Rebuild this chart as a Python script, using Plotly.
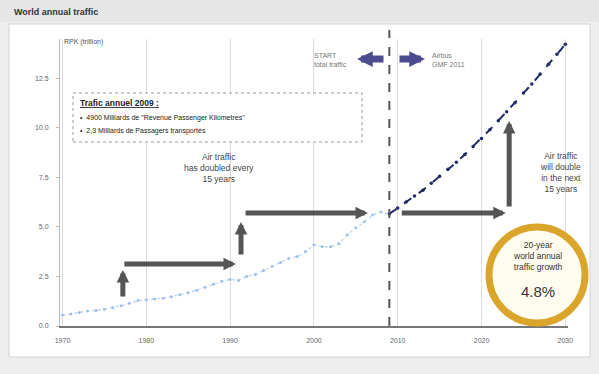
import plotly.graph_objects as go

# ---------------- data ----------------
hist_years = list(range(1970, 2010))
hist_rpk = [0.55, 0.60, 0.68, 0.75, 0.78, 0.85, 0.92, 1.02, 1.15, 1.28,
            1.32, 1.36, 1.40, 1.48, 1.58, 1.68, 1.80, 1.95, 2.10, 2.25,
            2.35, 2.30, 2.50, 2.60, 2.80, 3.00, 3.20, 3.40, 3.50, 3.75,
            4.10, 4.00, 4.00, 4.15, 4.60, 4.95, 5.25, 5.60, 5.75, 5.65]

fc_years = list(range(2009, 2031))
fc_rpk = [5.65, 5.95, 6.25, 6.55, 6.85, 7.20, 7.55, 7.90, 8.25, 8.65, 9.05,
          9.45, 9.90, 10.35, 10.80, 11.25, 11.75, 12.20, 12.70, 13.20, 13.70, 14.20]

y_tickvals = [0, 2.5, 5.0, 7.5, 10.0, 12.5]
y_ticktext = ["0.0", "2.5", "5.0", "7.5", "10.0", "12.5"]
x_tickvals = [1970, 1980, 1990, 2000, 2010, 2020, 2030]
x_ticktext = ["1970", "1980", "1990", "2000", "2010", "2020", "2030"]

# ---------------- geometry helpers (pixel -> paper) ----------------
W, H = 599, 374
ML, MR, MT, MB = 60, 31, 39, 48
PW, PH = W - ML - MR, H - MT - MB


def PX(x):
    return (x - ML) / PW


def PY(y):
    return (H - MB - y) / PH


FONT = "Liberation Sans, Arial, sans-serif"

fig = go.Figure()

fig.add_trace(go.Scatter(
    x=hist_years, y=hist_rpk, mode="lines+markers",
    line=dict(color="#c3d8f1", width=1.5, dash="dot"),
    marker=dict(color="#9fc0e8", size=3),
    hoverinfo="skip", showlegend=False))

fig.add_trace(go.Scatter(
    x=fc_years, y=fc_rpk, mode="lines+markers",
    line=dict(color="#1f2a66", width=2, dash="dash"),
    marker=dict(color="#1f2a66", size=3.5),
    hoverinfo="skip", showlegend=False))

shapes = [
    # white panel
    dict(type="rect", xref="paper", yref="paper", x0=PX(9), x1=PX(590), y0=PY(357), y1=PY(24),
         fillcolor="white", line=dict(color="#d2d2d2", width=1), layer="below"),
    # header band
    dict(type="rect", xref="paper", yref="paper", x0=PX(0), x1=PX(599), y0=PY(22), y1=PY(0),
         fillcolor="#e6e6e6", line=dict(width=0), layer="below"),
    # info box
    dict(type="rect", xref="paper", yref="paper", x0=PX(73), x1=PX(362), y0=PY(142), y1=PY(93),
         fillcolor="white", line=dict(color="#9a9a9a", width=1, dash="dot"), layer="above"),
    # forecast start dashed line
    dict(type="line", xref="x", yref="paper", x0=fc_years[0], x1=fc_years[0], y0=0, y1=PY(30),
         line=dict(color="#555555", width=2, dash="dash"), layer="above"),
    # growth ring
    dict(type="circle", xref="paper", yref="paper", x0=PX(489), x1=PX(585), y0=PY(323), y1=PY(227),
         fillcolor="#fffdf0", line=dict(color="#dba52b", width=7), layer="above"),
]

ARROW = "#555555"


def data_arrow(x, y, ax, ay):
    return dict(x=x, y=y, ax=ax, ay=ay, xref="x", yref="y", axref="x", ayref="y",
                text="", showarrow=True, arrowhead=2, arrowsize=0.5, arrowwidth=5,
                arrowcolor=ARROW, standoff=0, startstandoff=0)


def px_arrow(x, y, ax):
    return dict(x=PX(x), y=PY(y), xref="paper", yref="paper", ax=ax, ay=0,
                text="", showarrow=True, arrowhead=2, arrowsize=0.45, arrowwidth=7,
                arrowcolor="#4b4b8f", standoff=0)


def txt(x, y, s, size=8, color="#444444", align="center", xanchor="center", bold=False):
    if bold:
        s = "<b>" + s + "</b>"
    return dict(x=PX(x), y=PY(y), xref="paper", yref="paper", text=s, showarrow=False,
                font=dict(family=FONT, size=size, color=color), align=align,
                xanchor=xanchor, yanchor="middle")


annotations = [
    data_arrow(1977.2, 2.82, 1977.2, 1.41),
    data_arrow(1990.7, 3.13, 1977.2, 3.13),
    data_arrow(1991.3, 5.24, 1991.3, 3.53),
    data_arrow(2006.45, 5.70, 1991.66, 5.70),
    data_arrow(2022.9, 5.70, 2010.3, 5.70),
    data_arrow(2023.3, 10.33, 2023.3, 5.95),
    px_arrow(357, 59, 28),
    px_arrow(425, 59, -27),
    txt(12, 12, "World annual traffic", size=9, color="#333333", xanchor="left", bold=True),
    txt(62, 42, "RPK (trillion)", size=7, color="#555555", xanchor="left"),
    txt(78, 103, "<span style='text-decoration:underline'>Trafic annuel 2009 :</span>",
        size=8.5, color="#222222", xanchor="left", align="left", bold=True),
    txt(78, 118, "•  4900 Milliards de \"Revenue Passenger Kilometres\"",
        size=7, color="#222222", xanchor="left", align="left"),
    txt(78, 131, "•  2,3 Milliards de Passagers transportés",
        size=7, color="#222222", xanchor="left", align="left"),
    txt(219, 168, "Air traffic<br>has doubled every<br>15 years", size=8.5),
    txt(560, 172, "Air traffic<br>will double<br>in the next<br>15 years", size=8.5),
    txt(312, 60, "START<br>total traffic", size=7, color="#777777", xanchor="left", align="left"),
    txt(430, 60, "Airbus<br>GMF 2011", size=7, color="#777777", xanchor="left", align="left"),
    txt(538, 256, "20-year<br>world annual<br>traffic growth", size=8.5, color="#333333"),
    txt(538, 291, "4.8%", size=15, color="#333344"),
]

fig.update_layout(
    width=W, height=H,
    margin=dict(l=ML, r=MR, t=MT, b=MB),
    paper_bgcolor="#eeeeee",
    plot_bgcolor="rgba(0,0,0,0)",
    shapes=shapes,
    annotations=annotations,
    font=dict(family=FONT, size=7, color="#666666"),
    xaxis=dict(range=[1969.7, 2030.32], tickvals=x_tickvals, ticktext=x_ticktext,
               showgrid=True, gridcolor="#dddddd", gridwidth=1, zeroline=False,
               showline=True, linecolor="#777777", linewidth=1.5,
               ticks="", ticklabelstandoff=7,
               tickfont=dict(size=7, color="#666666"), fixedrange=True),
    yaxis=dict(range=[0, 14.47], tickvals=y_tickvals, ticktext=y_ticktext,
               showgrid=False, zeroline=False, showline=True, linecolor="#bbbbbb",
               linewidth=1, ticks="outside", ticklen=3, tickcolor="#bbbbbb",
               ticklabelstandoff=6,
               tickfont=dict(size=7, color="#666666"), fixedrange=True),
)

fig.write_html("out.html")
